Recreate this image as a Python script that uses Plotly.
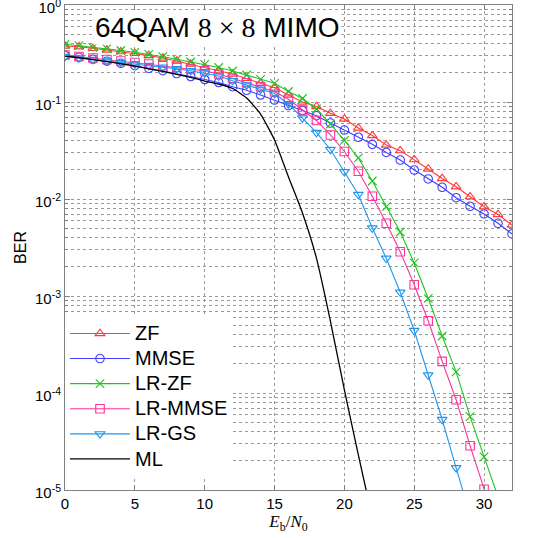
import plotly.graph_objects as go

snr = list(range(0, 33))

ber_zf = [0.378, 0.3716, 0.3578, 0.3437, 0.3301, 0.3177, 0.3015, 0.2842, 0.2647, 0.2465,
          0.2279, 0.2102, 0.1944, 0.1755, 0.1559, 0.1400, 0.1181, 0.1000, 0.0899, 0.0765,
          0.0668, 0.0540, 0.0451, 0.0360, 0.0315, 0.0255, 0.0204, 0.01627, 0.01339, 0.01056,
          0.00833, 0.00692, 0.00540]
ber_mmse = [0.3015, 0.2889, 0.2756, 0.2634, 0.2506, 0.2367, 0.2226, 0.2102, 0.1966, 0.1832,
            0.1706, 0.1589, 0.1438, 0.1320, 0.1181, 0.1048, 0.0920, 0.0817, 0.0722, 0.0607,
            0.0514, 0.0433, 0.0366, 0.0302, 0.0252, 0.0199, 0.0161, 0.0132, 0.01031, 0.00841,
            0.00701, 0.00562, 0.00436]
ber_lrzf = [0.3934, 0.3806, 0.3664, 0.3544, 0.3396, 0.3254, 0.3103, 0.2931, 0.2756, 0.2585,
            0.2446, 0.2268, 0.2088, 0.1898, 0.1714, 0.1559, 0.1283, 0.1087, 0.0847, 0.0593,
            0.0403, 0.0265, 0.01533, 0.00833, 0.00457, 0.00219, 0.000947, 0.000387, 0.000165,
            5.70e-5, 2.20e-5, 8.5e-6]
ber_lrmmse = [0.3051, 0.2944, 0.2842, 0.2743, 0.2647, 0.2554, 0.2465, 0.2367, 0.2279, 0.2189,
              0.2102, 0.1944, 0.1755, 0.1581, 0.1438, 0.1277, 0.1066, 0.0827, 0.0645, 0.0457,
              0.0309, 0.0193, 0.01069, 0.00562, 0.00286, 0.001307, 0.000556, 0.000212, 8.53e-5,
              2.86e-5, 1.019e-5, 3.7e-6]
ber_lrgs = [0.2944, 0.2842, 0.2743, 0.2647, 0.2554, 0.2465, 0.2378, 0.2285, 0.2200, 0.2102,
            0.1991, 0.1854, 0.1658, 0.1497, 0.1352, 0.1224, 0.0954, 0.0684, 0.0485, 0.0324,
            0.0191, 0.01113, 0.00502, 0.00245, 0.001094, 0.000441, 0.0001533, 5.33e-5, 1.694e-5,
            5.5e-6]
ber_ml = [0.298, 0.286, 0.273, 0.261, 0.248, 0.234, 0.220, 0.207, 0.193, 0.179,
          0.1646, 0.1533, 0.1377, 0.110, 0.0752, 0.0406, 0.01686, 0.00717, 0.00246, 0.000552,
          0.0001074, 2.30e-5, 5.14e-6]

y_tickvals = [1, 1e-1, 1e-2, 1e-3, 1e-4, 1e-5]
y_ticktext = ["10<sup>0</sup>", "10<sup>-1</sup>", "10<sup>-2</sup>", "10<sup>-3</sup>",
              "10<sup>-4</sup>", "10<sup>-5</sup>"]
x_tickvals = [0, 5, 10, 15, 20, 25, 30]

series = [
    ("ZF", ber_zf, "#ff3b3b", "triangle-up-open"),
    ("MMSE", ber_mmse, "#3f3fff", "circle-open"),
    ("LR-ZF", ber_lrzf, "#1fc41f", "x-thin-open"),
    ("LR-MMSE", ber_lrmmse, "#ff3399", "square-open"),
    ("LR-GS", ber_lrgs, "#1e96f0", "triangle-down-open"),
]

def big(name):
    return "<span style='font-size:20px'>" + name + "</span>"

fig = go.Figure()
for name, vals, col, sym in series:
    fig.add_trace(go.Scatter(
        x=snr[:len(vals)], y=vals, name=big(name), mode="lines+markers",
        line=dict(color=col, width=1.1),
        marker=dict(symbol=sym, size=8.5, color=col, line=dict(color=col, width=1.1)),
    ))
fig.add_trace(go.Scatter(
    x=snr[:len(ber_ml)], y=ber_ml, name=big("ML"), mode="lines",
    line=dict(color="black", width=1.3, shape="spline", smoothing=0.5),
))

grid_col = "#9a9a9a"
fig.update_layout(
    width=542, height=538,
    margin=dict(l=65, r=30, t=5, b=48),
    paper_bgcolor="white", plot_bgcolor="white",
    font=dict(family="Liberation Sans, Arial, sans-serif", size=14, color="black"),
    showlegend=True,
    legend=dict(
        x=0, y=0.027, xanchor="left", yanchor="bottom",
        bgcolor="white", borderwidth=0,
        font=dict(size=17, family="Liberation Sans, Arial, sans-serif"),
        tracegroupgap=0, itemwidth=60,
    ),
    xaxis=dict(
        range=[0, 32], tickvals=x_tickvals, showgrid=True,
        gridcolor=grid_col, griddash="dot", gridwidth=1,
        showline=True, linecolor="#808080", linewidth=1, mirror="allticks",
        ticks="inside", ticklen=5, tickcolor="#808080", tickfont=dict(size=15),
        zeroline=False, ticklabeloverflow="allow", automargin=False,
        title=dict(text="<i>E</i><sub>b</sub>/<i>N</i><sub>0</sub>",
                   font=dict(family="Liberation Serif, serif", size=17), standoff=4),
    ),
    yaxis=dict(
        type="log", range=[-5, 0], tickvals=y_tickvals, ticktext=y_ticktext,
        showgrid=True, gridcolor=grid_col, griddash="dot", gridwidth=1,
        showline=True, linecolor="#808080", linewidth=1, mirror="allticks",
        ticks="inside", ticklen=5, tickcolor="#808080", tickfont=dict(size=15),
        ticklabelshift=3,
        minor=dict(dtick="D1", showgrid=True, gridcolor=grid_col, griddash="dot",
                   ticks="inside", ticklen=3, tickcolor="#808080"),
        zeroline=False, ticklabeloverflow="allow", automargin=False,
        title=dict(text="BER", font=dict(size=16), standoff=4),
    ),
)

fig.add_annotation(
    x=0.062, y=0.9526, xref="paper", yref="paper", xanchor="left", yanchor="middle",
    text="64QAM <span style='font-family:Liberation Serif, serif'>8 × 8</span> MIMO",
    showarrow=False, font=dict(size=28, color="black", family="Liberation Sans, Arial, sans-serif"),
    bgcolor="white", borderpad=1,
)

fig.write_html("out.html")
